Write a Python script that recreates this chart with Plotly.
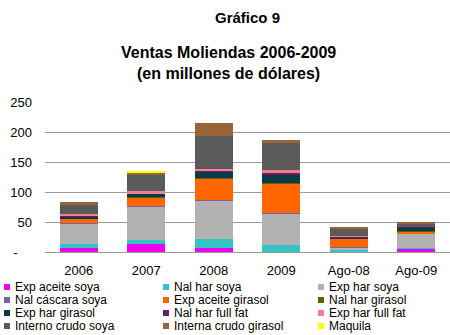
import plotly.graph_objects as go

# Categories (years / periods)
categorias = ["2006", "2007", "2008", "2009", "Ago-08", "Ago-09"]

# Sales by product line, millions of dollars
exp_aceite_soya = [7, 14, 7, 0.5, 0, 6]
nal_har_soya = [6, 6, 15, 11, 3, 1]
exp_har_soya = [35, 55, 64, 53, 5, 23]
nal_cascara_soya = [1, 1, 1, 1, 0.5, 0.5]
exp_aceite_girasol = [6, 14, 36, 49, 14, 4]
nal_har_girasol = [1, 1, 1, 0.5, 0.3, 0.5]
exp_har_girasol = [3, 6, 10, 14, 2, 5]
nal_har_full_fat = [1, 1, 2, 3, 1.5, 1]
exp_har_full_fat = [3, 3, 3, 4, 0.3, 0]
interno_crudo_soya = [15, 28, 55, 45, 11, 6]
interna_crudo_girasol = [6, 4, 21, 6, 4, 3]
maquila = [0, 2, 0, 0, 0, 0]

# Y axis ticks
y_ticks = [0, 50, 100, 150, 200, 250]
y_ticktext = ["-\u00a0\u00a0\u00a0\u00a0", "50", "100", "150", "200", "250"]

series = [
    ("Exp aceite soya", exp_aceite_soya, "#ee00ee"),
    ("Nal har soya", nal_har_soya, "#33c4c4"),
    ("Exp har soya", exp_har_soya, "#b2b2b2"),
    ("Nal cáscara soya", nal_cascara_soya, "#7f5f9f"),
    ("Exp aceite girasol", exp_aceite_girasol, "#ff6600"),
    ("Nal har girasol", nal_har_girasol, "#5f5f00"),
    ("Exp har girasol", exp_har_girasol, "#0a3a4a"),
    ("Nal har full fat", nal_har_full_fat, "#6e1e5e"),
    ("Exp har full fat", exp_har_full_fat, "#f08090"),
    ("Interno crudo soya", interno_crudo_soya, "#5a5a5a"),
    ("Interna crudo girasol", interna_crudo_girasol, "#98643a"),
    ("Maquila", maquila, "#ffff00"),
]

W, H = 450, 335
ML, MR, MT, MB = 45, 0, 102, 83
PW, PH = W - ML - MR, H - MT - MB
FONT = "Liberation Sans, Arial, sans-serif"


def px_x(x):
    return (x - ML) / PW


def px_y(y):
    return (H - MB - y) / PH


fig = go.Figure()
for name, vals, color in series:
    fig.add_trace(go.Bar(
        x=categorias, y=vals, name=name,
        marker=dict(color=color, line=dict(width=0)),
        hoverinfo="skip",
    ))

annotations = [
    dict(text="<b>Gráfico 9</b>", x=0.5, y=px_y(17), xref="paper", yref="paper",
         xanchor="center", yanchor="middle", showarrow=False,
         font=dict(family=FONT, size=15, color="#000")),
    dict(text="<b>Ventas Moliendas 2006-2009</b>", x=px_x(228), y=px_y(52),
         xref="paper", yref="paper", xanchor="center", yanchor="middle",
         showarrow=False, font=dict(family=FONT, size=16, color="#000")),
    dict(text="<b>(en millones de dólares)</b>", x=px_x(228), y=px_y(73),
         xref="paper", yref="paper", xanchor="center", yanchor="middle",
         showarrow=False, font=dict(family=FONT, size=16, color="#000")),
]

# Legend: three columns, four rows
shapes = []
col_x = [4, 163, 318]
row_y = [287, 300, 313, 326]
for i, (name, vals, color) in enumerate(series):
    r, c = divmod(i, 3)
    x0, yc = col_x[c], row_y[r]
    shapes.append(dict(type="rect", xref="paper", yref="paper",
                       x0=px_x(x0), x1=px_x(x0 + 6),
                       y0=px_y(yc + 3), y1=px_y(yc - 3),
                       fillcolor=color, line=dict(width=0)))
    annotations.append(dict(text=name, x=px_x(x0 + 9), y=px_y(yc),
                            xref="paper", yref="paper", xanchor="left",
                            yanchor="middle", showarrow=False,
                            font=dict(family=FONT, size=12, color="#000")))

fig.update_layout(
    width=W, height=H,
    margin=dict(l=ML, r=MR, t=MT, b=MB),
    barmode="stack", bargap=0.44,
    plot_bgcolor="white", paper_bgcolor="white",
    showlegend=False,
    font=dict(family=FONT, size=13, color="#000"),
    annotations=annotations, shapes=shapes,
    xaxis=dict(showgrid=False, showline=True, linecolor="#9a9a9a",
               linewidth=1, ticks="", ticklabelstandoff=6,
               tickfont=dict(family=FONT, size=13, color="#000")),
    yaxis=dict(range=[0, 250], tickvals=y_ticks, ticktext=y_ticktext,
               showgrid=True, gridcolor="#9a9a9a", gridwidth=1,
               zeroline=False, showline=False, ticks="",
               ticklabelstandoff=12,
               tickfont=dict(family=FONT, size=13, color="#000")),
)

fig.write_html("out.html")
